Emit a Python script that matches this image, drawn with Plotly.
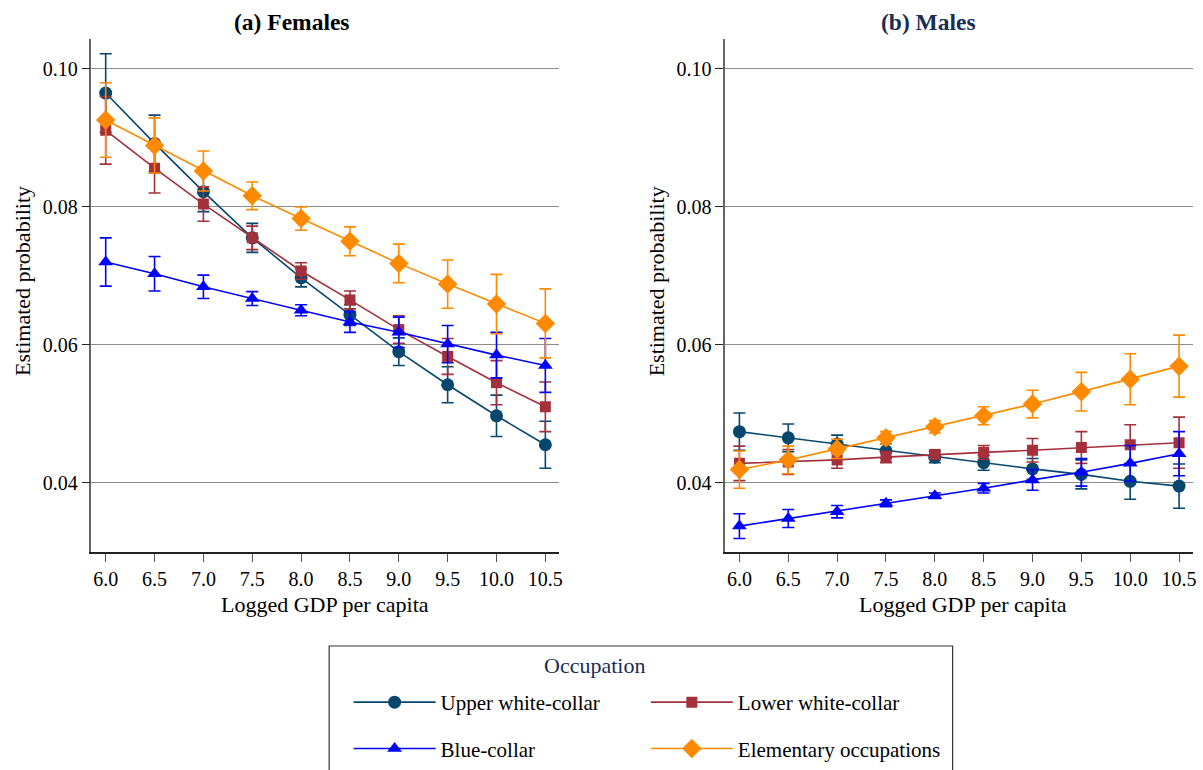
import plotly.graph_objects as go

gdp = [6.0, 6.5, 7.0, 7.5, 8.0, 8.5, 9.0, 9.5, 10.0, 10.5]
x_ticks = ["6.0", "6.5", "7.0", "7.5", "8.0", "8.5", "9.0", "9.5", "10.0", "10.5"]
y_ticks = [0.04, 0.06, 0.08, 0.10]
y_tick_labels = ["0.04", "0.06", "0.08", "0.10"]

occupations = ["Upper white-collar", "Lower white-collar", "Blue-collar", "Elementary occupations"]

# Females: estimated probability and CI half-width
fem_upper = [0.0965, 0.0892, 0.0822, 0.0755, 0.0697, 0.0643, 0.0590, 0.0542, 0.0497, 0.0455]
fem_upper_ci = [0.0057, 0.0041, 0.0029, 0.0021, 0.0013, 0.0015, 0.0020, 0.0026, 0.0030, 0.0034]
fem_lower = [0.0911, 0.0856, 0.0804, 0.0755, 0.0707, 0.0665, 0.0622, 0.0583, 0.0545, 0.0510]
fem_lower_ci = [0.0049, 0.0036, 0.0025, 0.0017, 0.0012, 0.0013, 0.0020, 0.0026, 0.0032, 0.0036]
fem_blue = [0.0720, 0.0703, 0.0684, 0.0667, 0.0650, 0.0633, 0.0618, 0.0601, 0.0585, 0.0570]
fem_blue_ci = [0.0035, 0.0025, 0.0017, 0.0010, 0.0008, 0.0015, 0.0022, 0.0027, 0.0033, 0.0039]
fem_elem = [0.0926, 0.0889, 0.0852, 0.0816, 0.0783, 0.0750, 0.0718, 0.0688, 0.0659, 0.0631]
fem_elem_ci = [0.0054, 0.0040, 0.0029, 0.0020, 0.0017, 0.0021, 0.0028, 0.0035, 0.0043, 0.0050]

# Males
mal_upper = [0.0474, 0.0465, 0.0456, 0.0446, 0.0437, 0.0429, 0.0420, 0.0412, 0.0402, 0.0395]
mal_upper_ci = [0.0027, 0.0020, 0.0013, 0.0010, 0.0008, 0.0011, 0.0015, 0.0021, 0.0026, 0.0032]
mal_lower = [0.0428, 0.0430, 0.0433, 0.0437, 0.0441, 0.0444, 0.0447, 0.0451, 0.0455, 0.0458]
mal_lower_ci = [0.0025, 0.0018, 0.0012, 0.0008, 0.0006, 0.0010, 0.0017, 0.0023, 0.0029, 0.0037]
mal_blue = [0.0337, 0.0348, 0.0358, 0.0370, 0.0381, 0.0392, 0.0404, 0.0415, 0.0428, 0.0442]
mal_blue_ci = [0.0018, 0.0013, 0.0009, 0.0005, 0.0004, 0.0007, 0.0015, 0.0020, 0.0026, 0.0032]
mal_elem = [0.0419, 0.0433, 0.0449, 0.0465, 0.0481, 0.0497, 0.0514, 0.0532, 0.0550, 0.0569]
mal_elem_ci = [0.0027, 0.0020, 0.0014, 0.0009, 0.0009, 0.0013, 0.0020, 0.0028, 0.0037, 0.0045]

colors = ["#07476e", "#a3303b", "#0000ff", "#ff8a00"]
symbols = ["circle", "square", "triangle-up", "diamond"]
msizes = [13, 11, 13, 15]
legend_ids = ["legend", "legend2", "legend", "legend2"]

female = [(fem_upper, fem_upper_ci), (fem_lower, fem_lower_ci), (fem_blue, fem_blue_ci), (fem_elem, fem_elem_ci)]
male = [(mal_upper, mal_upper_ci), (mal_lower, mal_lower_ci), (mal_blue, mal_blue_ci), (mal_elem, mal_elem_ci)]

FONT = "Liberation Serif"
fig = go.Figure()

for panel, (data, xa, ya) in enumerate([(female, "x", "y"), (male, "x2", "y2")]):
    for i, (vals, ci) in enumerate(data):
        fig.add_trace(go.Scatter(
            x=gdp, y=vals, xaxis=xa, yaxis=ya,
            mode="lines+markers", name=occupations[i],
            line=dict(color=colors[i], width=1.6),
            marker=dict(symbol=symbols[i], size=msizes[i], color=colors[i]),
            error_y=dict(type="data", array=ci, color=colors[i], thickness=1.6, width=6),
            showlegend=(panel == 0), legend=legend_ids[i], legendgroup=occupations[i],
        ))

axis_common = dict(
    showline=True, linewidth=1.5, ticks="outside", ticklen=8, tickwidth=1.2,
    tickfont=dict(family=FONT, size=20, color="black"), zeroline=False,
)
xcommon = dict(axis_common, linecolor="#222222", tickcolor="#555555", showgrid=False,
               range=[5.854, 10.643], tickvals=gdp, ticktext=x_ticks)
ycommon = dict(axis_common, linecolor="#666666", tickcolor="#222222", showgrid=True,
               gridcolor="#8c8c8c", gridwidth=1.3, range=[0.0299, 0.1043],
               tickvals=y_ticks, ticktext=y_tick_labels)

legend_common = dict(y=0.1143, xanchor="left", yanchor="top", orientation="v",
                     font=dict(family=FONT, size=21, color="black"), tracegroupgap=16,
                     bgcolor="rgba(0,0,0,0)", itemwidth=82)

fig.update_layout(
    width=1203, height=770, margin=dict(l=0, r=0, t=0, b=0),
    paper_bgcolor="white", plot_bgcolor="white",
    font=dict(family=FONT, color="black"),
    xaxis=dict(xcommon, domain=[0.0762, 0.4661], anchor="y"),
    yaxis=dict(ycommon, domain=[0.2827, 0.9490], anchor="x"),
    xaxis2=dict(xcommon, domain=[0.6043, 0.9942], anchor="y2"),
    yaxis2=dict(ycommon, domain=[0.2827, 0.9490], anchor="x2"),
    legend=dict(legend_common, x=0.2905),
    legend2=dict(legend_common, x=0.5382),
    shapes=[dict(type="rect", xref="paper", yref="paper", x0=330 / 1203, x1=955 / 1203,
                 y0=-0.01, y1=(770 - 646) / 770, line=dict(color="#333333", width=1.2))],
)

annotations = [
    dict(text="<b>(a) Females</b>", x=293 / 1203, y=(770 - 22) / 770, font=dict(size=23.5, color="black")),
    dict(text="<b>(b) Males</b>", x=931 / 1203, y=(770 - 22) / 770, font=dict(size=23.5, color="#1a2d55")),
    dict(text="Logged GDP per capita", x=326 / 1203, y=(770 - 604) / 770, font=dict(size=22, color="black")),
    dict(text="Logged GDP per capita", x=965 / 1203, y=(770 - 604) / 770, font=dict(size=22, color="black")),
    dict(text="Estimated probability", x=23 / 1203, y=(770 - 281) / 770, textangle=-90, font=dict(size=22, color="black")),
    dict(text="Estimated probability", x=659 / 1203, y=(770 - 281) / 770, textangle=-90, font=dict(size=22, color="black")),
    dict(text="Occupation", x=596 / 1203, y=(770 - 665) / 770, font=dict(size=22, color="#1a2d55")),
]
for a in annotations:
    a.update(xref="paper", yref="paper", showarrow=False, xanchor="center", yanchor="middle")
    a["font"]["family"] = FONT
fig.update_layout(annotations=annotations)

fig.write_html("out.html", config={"displayModeBar": False},
               post_script="document.body.style.margin='0';document.body.style.overflow='hidden';")
